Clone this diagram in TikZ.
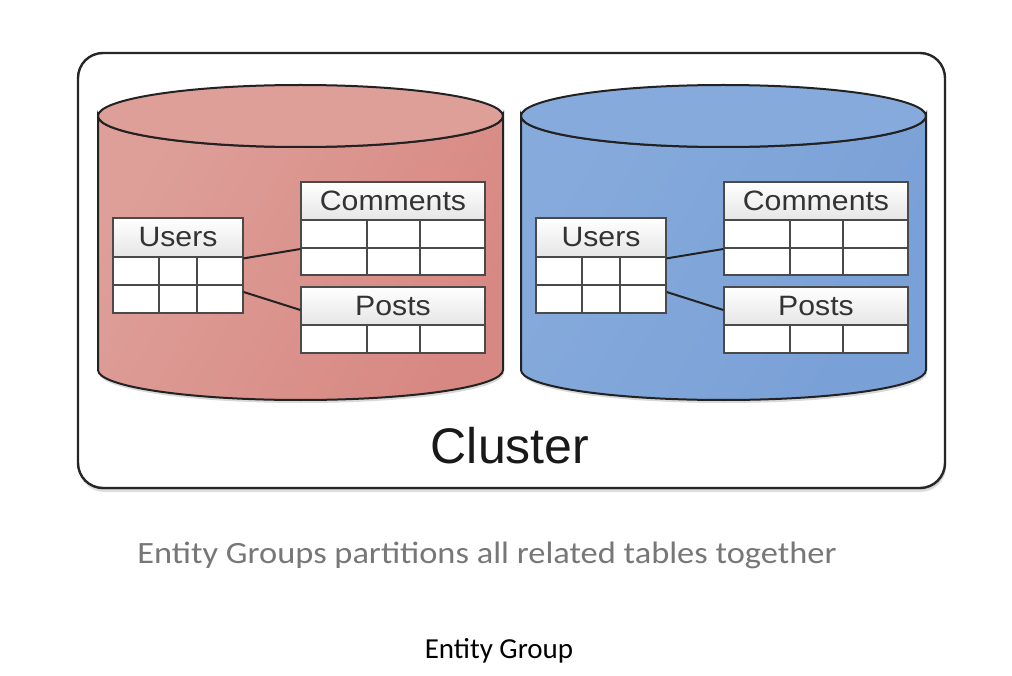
\documentclass[tikz,border=0pt]{standalone}
\usepackage{fontspec}
\setmainfont{Liberation Sans}
\newfontfamily\tblfont[FakeStretch=1.08]{Liberation Sans}
\newfontfamily\capfont{Carlito}
\newfontfamily\capwide[FakeStretch=1.11]{Carlito}
\usetikzlibrary{calc}
\definecolor{redbody}{HTML}{D88882}
\definecolor{redlight}{HTML}{DE9F99}
\definecolor{bluebody}{HTML}{79A0D7}
\definecolor{bluelight}{HTML}{86AADB}
\definecolor{linecol}{HTML}{222222}
\definecolor{gridcol}{HTML}{4A4A4A}
\definecolor{capgray}{HTML}{777777}
\tikzset{
  hdr/.style={draw=gridcol, line width=1.2pt, top color=white, bottom color=black!10,
    inner sep=0pt, font=\tblfont\fontsize{28}{30}\selectfont, text=black!80},
  gridbox/.style={draw=gridcol, line width=1.2pt, fill=white, inner sep=0pt},
  gridline/.style={draw=gridcol, line width=1.2pt},
  link/.style={draw=linecol, line width=2pt},
  cyl/.style={draw=linecol, line width=2pt},
}
\begin{document}
\begin{tikzpicture}[x=1pt,y=-1pt]
\useasboundingbox (0,0) rectangle (1012,676);
\fill[white] (0,0) rectangle (1012,676);
% outer cluster box shadow and box
\fill[black, opacity=0.12, rounded corners=25pt] (79,57) rectangle (946,492);
\fill[black, opacity=0.10, rounded corners=25pt] (79,55) rectangle (946,490);
\node[draw=black!85, line width=2.4pt, rounded corners=25pt, fill=white,
  minimum width=867pt, minimum height=435pt, inner sep=0pt] (cluster) at (511.5,270.5) {};
\node[font=\fontsize{50}{56}\selectfont, text=black!90] (clusterlbl) at (510,446) {Cluster};

\foreach \dx/\col/\lt/\p in {0/redbody/redlight/r, 423/bluebody/bluelight/b}{
  \begin{scope}[xshift=\dx]
    % shadow of cylinder
    \fill[black, opacity=0.15] (99,120) -- (99,373) arc[start angle=180,end angle=0,x radius=202.5,y radius=30] -- (504,120) -- cycle;
    % body
    \path[cyl, left color=\lt, right color=\col, shading angle=60]
      (98,116) -- (98,370) arc[start angle=180,end angle=0,x radius=202.5,y radius=30] -- (503,116)
      arc[start angle=0,end angle=180,x radius=202.5,y radius=31] -- cycle;
    \draw[cyl, fill=\lt] (300.5,116) ellipse[x radius=202.5, y radius=31];
    \node[cyl, draw=none, minimum width=405pt, minimum height=285pt, inner sep=0pt] (\p db) at (300.5,243) {};
    % Users table
    \node[hdr, minimum width=130pt, minimum height=39pt] (\p uh) at (178,237.5) {Users};
    \node[gridbox, minimum width=130pt, minimum height=56pt] (\p ug) at (178,285) {};
    \draw[gridline] (113,285) -- (243,285) (159,257) -- (159,313) (197,257) -- (197,313);
    % Comments table
    \node[hdr, minimum width=184pt, minimum height=38pt] (\p ch) at (393,201) {Comments};
    \node[gridbox, minimum width=184pt, minimum height=55pt] (\p cg) at (393,247.5) {};
    \draw[gridline] (301,248) -- (485,248) (367,220) -- (367,275) (420,220) -- (420,275);
    % Posts table
    \node[hdr, minimum width=184pt, minimum height=38pt] (\p ph) at (393,306) {Posts};
    \node[gridbox, minimum width=184pt, minimum height=28pt] (\p pg) at (393,339) {};
    \draw[gridline] (367,325) -- (367,353) (420,325) -- (420,353);
    % links
    \draw[link] ([yshift=-2pt]\p ug.north east) -- ([yshift=-1.5pt]\p cg.west);
    \draw[link] ([yshift=-7pt]\p ug.east) -- ([yshift=-4pt]\p ph.west);
  \end{scope}
}
\node[font=\capwide\fontsize{31}{34}\selectfont, text=capgray] (caption) at (487,555) {Entity Groups partitions all related tables together};
\node[font=\capfont\fontsize{29}{32}\selectfont, text=black] (title) at (499,651) {Entity Group};
\end{tikzpicture}
\end{document}
